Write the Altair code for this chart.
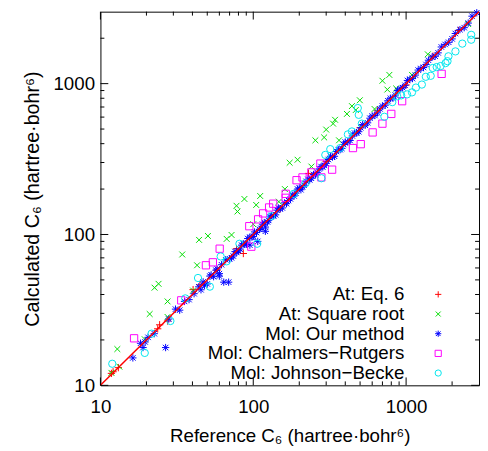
import altair as alt
import pandas as pd

series_names = ["At: Eq. 6", "At: Square root", "Mol: Our method",
                "Mol: Chalmers\u2212Rutgers", "Mol: Johnson\u2212Becke"]
series_colors = ["#ff0000", "#00dd00", "#0000ff", "#ff00ff", "#00e5ee"]
shape_paths = [
    "M-1,0L1,0M0,-1L0,1",
    "M-0.8,-0.8L0.8,0.8M-0.8,0.8L0.8,-0.8",
    "M-1,0L1,0M0,-1L0,1M-0.75,-0.75L0.75,0.75M-0.75,0.75L0.75,-0.75",
    "square",
    "circle",
]

# At: Eq. 6
eq6_ref = [11.8, 12.1, 13.1, 23.7, 24.4, 27.5, 40.4, 44.8, 77.7, 86.1, 230,
           58, 150, 300, 500, 650, 1000, 1500, 2200]
eq6_calc = [12.0, 12.3, 13.1, 23.7, 25.2, 26.7, 43.1, 46.4, 80.5, 74.8, 254,
            58, 148, 305, 510, 660, 980, 1520, 2250]

# At: Square root
sqrt_ref = [11.8, 13.3, 12.9, 19.5, 21.0, 27.5, 27.5, 22.6, 24.0, 40.4, 34.3, 42.9,
            44.2, 50.5, 67.0, 72.1, 77.7, 78.8, 87.5, 104.5, 111, 100, 161, 147,
            173, 195, 240, 255, 291, 300, 333, 364, 343, 410, 442, 469, 498, 622,
            700, 777, 754, 861, 1093, 1387, 2549]
sqrt_calc = [12.1, 13.3, 17.4, 20.2, 29.7, 28.4, 36.0, 44.4, 47.1, 42.5, 73.7, 62.5,
             92.1, 97.8, 93.5, 99.3, 155, 142, 172, 157, 180, 117, 200, 165,
             299, 313, 282, 421, 440, 496, 543, 421, 576, 630, 710, 669, 776, 679,
             1045, 1143, 914, 929, 1143, 1565, 2483]

# Mol: Our method
our_ref = [16.3, 18.3, 19.0, 19.6, 20.5, 22.5, 26.7, 28.0, 31, 33, 35.5, 38, 41, 44,
           45.5, 47, 50, 52, 55, 58, 60, 60, 64.1, 69, 66, 70, 74, 78, 82, 86, 90,
           95, 95, 100, 105, 107, 110, 115, 120, 120, 126, 132, 140, 146, 155, 165,
           175, 185, 195, 205, 215, 228, 240, 255, 270, 285, 300, 320, 340, 360,
           380, 400, 430, 460, 490, 520, 560, 600, 650, 700, 760, 820, 880, 950,
           1020, 1100, 1200, 1300, 1400, 1550, 1700, 1900, 2100, 2400, 2700, 2900]
our_calc = [15.2, 19.0, 17.8, 19.4, 20.8, 22.0, 17.8, 27.5, 32, 31.5, 36, 37, 40.5, 45,
            43, 48.5, 47, 53, 52.5, 59, 55, 53, 48.3, 48.3, 68, 69, 72, 76, 80, 87, 86,
            96, 85, 97, 103, 90, 108, 117, 112, 105, 124, 134, 135, 150, 150, 160,
            172, 180, 200, 198, 212, 232, 236, 248, 272, 280, 296, 330, 330, 365,
            372, 410, 420, 470, 480, 535, 550, 610, 640, 710, 770, 800, 900, 940,
            1050, 1080, 1230, 1280, 1430, 1520, 1750, 1880, 2150, 2350, 2800, 2950]
our_ref2 = [48, 53, 57, 62, 72, 76, 80, 84, 88, 92, 98, 102, 112, 118, 124, 129, 136,
            143, 150, 160, 170, 180, 190, 200, 210, 222, 234, 248, 262, 278, 292, 310,
            330, 350, 370, 390, 415, 445, 475, 505, 540, 580, 625, 675, 730, 790, 850,
            915, 985, 1060, 1150, 1250, 1350, 1480, 1620, 1800, 2000, 2250, 2550]
our_calc2 = [46, 54, 58, 63, 70, 77, 78, 85, 86, 94, 96, 104, 110, 120, 121, 131, 133,
             145, 148, 162, 168, 182, 188, 203, 207, 225, 230, 250, 258, 282, 288, 314,
             326, 355, 365, 395, 410, 450, 470, 510, 530, 590, 615, 680, 720, 800, 840,
             925, 975, 1070, 1140, 1260, 1340, 1500, 1600, 1820, 1980, 2280, 2520]

# Mol: Chalmers-Rutgers
cr_ref = [16.6, 33.8, 49.0, 54.4, 60.3, 94.2, 97.1, 107.6, 116, 127, 135, 163, 163,
          192, 210, 240, 275, 279, 328, 449, 505, 604, 700, 800, 942, 1708]
cr_calc = [20.5, 36.6, 62.5, 65.4, 80.5, 113.5, 83.0, 126, 138, 151, 160, 186, 175,
           229, 239, 258, 295, 239, 269, 374, 397, 475, 543, 630, 765, 1161]

# Mol: Johnson-Becke
jb_ref = [11.95, 19.5, 21.6, 28.7, 35.9, 43.5, 52.0, 61.2, 67.0, 81.2, 106, 131, 184,
          220, 279, 296, 319, 370, 416, 442, 483, 490, 513, 721, 812, 875, 929, 1015,
          1093, 1160, 1268, 1346, 1449, 1494, 1585, 1682, 1812, 1866, 1893, 2103,
          2333, 2667, 2667]
jb_calc = [13.9, 16.4, 22.0, 26.7, 37.7, 51.5, 45.1, 71.5, 66.4, 86.8, 86.8, 132, 186,
           219, 236, 337, 368, 374, 461, 482, 689, 621, 543, 603, 754, 824, 836, 849,
           875, 942, 986, 1110, 1127, 1270, 1288, 1308, 1368, 1409, 1518, 1636,
           1842, 2107, 1955]

diag_vals = [10, 3000]
major_ticks = [10, 100, 1000]
minor_ticks = [20, 30, 40, 50, 60, 70, 80, 90, 200, 300, 400, 500, 600, 700, 800,
               900, 2000]
x_title = "Reference C\u2086 (hartree\u00b7bohr\u2076)"
y_title = "Calculated C\u2086  (hartree\u00b7bohr\u2076)"

rows = []
for name, xs, ys in [
    (series_names[0], eq6_ref, eq6_calc),
    (series_names[1], sqrt_ref, sqrt_calc),
    (series_names[2], our_ref + our_ref2, our_calc + our_calc2),
    (series_names[3], cr_ref, cr_calc),
    (series_names[4], jb_ref, jb_calc),
]:
    for a, b in zip(xs, ys):
        rows.append({"ref": a, "calc": b, "series": name})
df = pd.DataFrame(rows)
diag_df = pd.DataFrame({"ref": diag_vals, "calc": diag_vals})
maj_df = pd.DataFrame({"ref": major_ticks, "calc": major_ticks})
min_df = pd.DataFrame({"ref": minor_ticks, "calc": minor_ticks})

W, H = 385, 380
FONT = "Liberation Sans"
FS = 19
xscale = alt.Scale(type="log", domain=[10, 3000], nice=False)
yscale = alt.Scale(type="log", domain=[10, 3000], nice=False)

x_axis = alt.Axis(values=major_ticks, format="d", grid=False, ticks=False,
                  domain=False, labelFontSize=FS, labelPadding=13,
                  labelFlush=False, labelOverlap=False,
                  titleFontSize=FS, titleFontWeight="normal",
                  titlePadding=10, labelColor="black", titleColor="black")
y_axis = alt.Axis(values=major_ticks, format="d", grid=False, ticks=False,
                  domain=False, labelFontSize=FS, labelPadding=6,
                  labelFlush=False, labelOverlap=False,
                  titleFontSize=20, titleFontWeight="normal",
                  titlePadding=11, labelColor="black", titleColor="black")

X = alt.X("ref:Q", scale=xscale, title=x_title, axis=x_axis)
Y = alt.Y("calc:Q", scale=yscale, title=y_title, axis=y_axis)

leg = alt.Legend(orient="none", legendX=334, legendY=278, title=None,
                 labelAlign="right", labelOffset={"expr": "-44"}, labelLimit=400,
                 labelFontSize=FS, labelFont=FONT, labelColor="black",
                 symbolSize=40, symbolStrokeWidth=1, rowPadding=0, padding=0)

pts = alt.Chart(df).mark_point(filled=False, size=55, strokeWidth=1, opacity=1).encode(
    x=X, y=Y,
    color=alt.Color("series:N", scale=alt.Scale(domain=series_names, range=series_colors),
                    legend=leg),
    shape=alt.Shape("series:N", scale=alt.Scale(domain=series_names, range=shape_paths),
                    legend=leg),
)

line = alt.Chart(diag_df).mark_line(color="#ff0000", strokeWidth=1.5).encode(x=X, y=Y)

def xticks(data, length, bottom):
    y0 = H if bottom else 0
    y1 = H - length if bottom else length
    return alt.Chart(data).mark_rule(color="black", strokeWidth=1).encode(
        x=X, y=alt.value(y0), y2=alt.value(y1))

def yticks(data, length, left):
    x0 = 0 if left else W
    x1 = length if left else W - length
    return alt.Chart(data).mark_rule(color="black", strokeWidth=1).encode(
        y=Y, x=alt.value(x0), x2=alt.value(x1))

tick_layers = [
    xticks(maj_df, 8, True), xticks(min_df, 4, True),
    xticks(maj_df, 8, False), xticks(min_df, 4, False),
    yticks(maj_df, 8, True), yticks(min_df, 4, True),
    yticks(maj_df, 8, False), yticks(min_df, 4, False),
]

chart = alt.layer(pts, line, *tick_layers).properties(
    width=W, height=H,
    autosize=alt.AutoSizeParams(type="none"),
    padding={"left": 94, "top": 0, "right": 1, "bottom": 60},
).configure(font=FONT).configure_view(stroke="black", strokeWidth=1)

chart.save("out.html", embed_options={"renderer": "svg", "actions": False})
